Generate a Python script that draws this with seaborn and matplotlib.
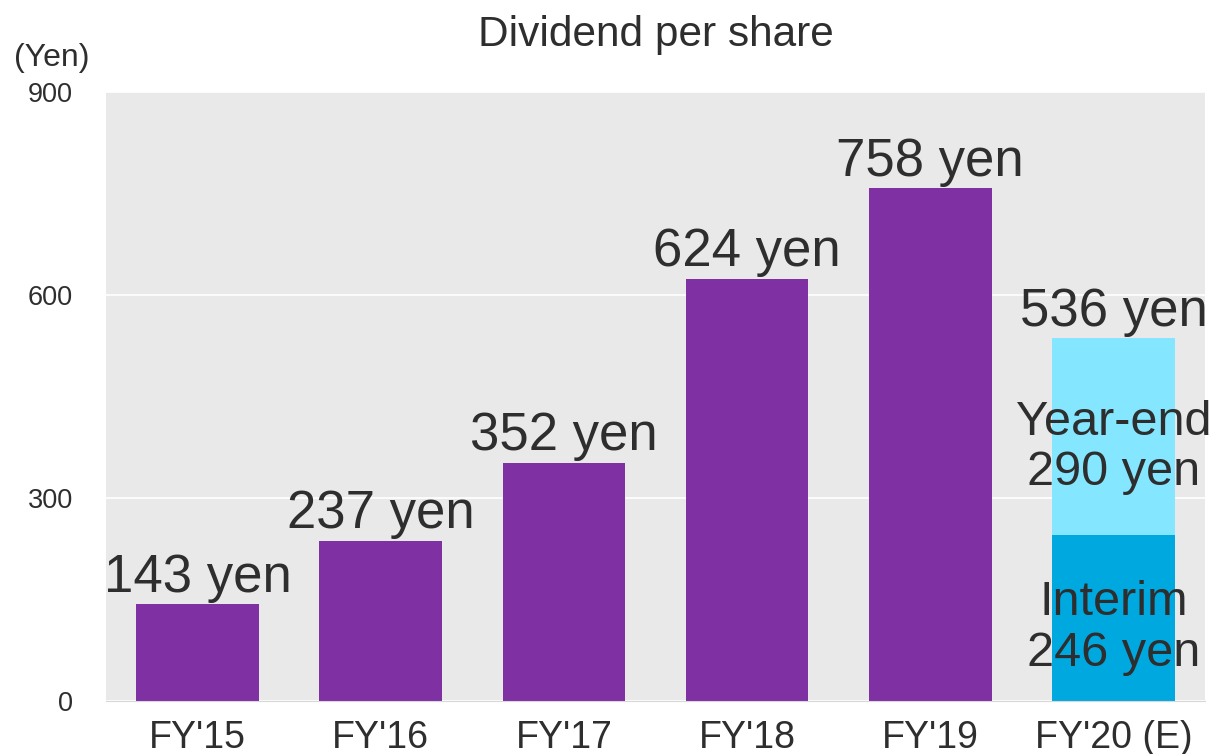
import matplotlib
matplotlib.use("Agg")
import matplotlib.pyplot as plt
import pandas as pd
import seaborn as sns

# data
categories = ["FY'15", "FY'16", "FY'17", "FY'18", "FY'19", "FY'20 (E)"]
dividends = [143, 237, 352, 624, 758, 536]
interim_fy20 = 246
year_end_fy20 = 290
yticks = [0, 300, 600, 900]

purple = "#7f30a3"
light_blue = "#84e6ff"
dark_blue = "#00a8e0"
text_color = "#2e2e2e"

sns.set_style("darkgrid", {"axes.facecolor": "#e9e9e9", "grid.color": "white",
                           "axes.edgecolor": "#d8d8d8"})
plt.rcParams["font.family"] = ["Liberation Sans", "DejaVu Sans"]

df = pd.DataFrame({"year": categories, "dividend": dividends})
colors = [purple] * 5 + [light_blue]

fig = plt.figure(figsize=(12.2, 7.54), dpi=100)
ax = fig.add_axes([0.0869, 0.0703, 0.9008, 0.8077])

sns.barplot(data=df, x="year", y="dividend", hue="year", palette=colors,
            order=categories, legend=False, width=0.67, saturation=1,
            linewidth=0, ax=ax)
sns.barplot(x=[categories[-1]], y=[interim_fy20], order=categories,
            color=dark_blue, width=0.67, saturation=1, linewidth=0, ax=ax)

ax.set_ylim(0, 900)
ax.set_xlim(-0.5, 5.5)
ax.set_yticks(yticks)
ax.set_yticklabels([str(t) for t in yticks], fontsize=19.5, color=text_color)
ax.tick_params(axis="x", labelsize=27, colors=text_color, length=0, pad=14)
ax.tick_params(axis="y", length=0, pad=24)
ax.grid(axis="x", visible=False)
ax.grid(axis="y", color="white", linewidth=1.2)
ax.set_xlabel("")
ax.set_ylabel("")
for s in ["top", "right", "left"]:
    ax.spines[s].set_visible(False)
ax.spines["bottom"].set_visible(True)
ax.spines["bottom"].set_color("#d8d8d8")

# value labels above bars
for i, v in enumerate(dividends):
    ax.text(i, v + 2, f"{v} yen", ha="center", va="bottom", fontsize=38,
            color=text_color)

# labels inside the stacked FY'20 bar
last = len(categories) - 1
ax.text(last, interim_fy20 + year_end_fy20 / 2 - 16, f"Year-end\n{year_end_fy20} yen",
        ha="center", va="center", fontsize=35, color=text_color, linespacing=1.15)
ax.text(last, interim_fy20 / 2 - 15, f"Interim\n{interim_fy20} yen",
        ha="center", va="center", fontsize=35, color=text_color, linespacing=1.15)

ax.set_title("Dividend per share", fontsize=30.5, color=text_color, pad=33)
fig.text(52 / 1220, 1 - 58 / 754, "(Yen)", ha="center", va="center",
         fontsize=23, color=text_color)

fig.savefig("out.png", dpi=100)
